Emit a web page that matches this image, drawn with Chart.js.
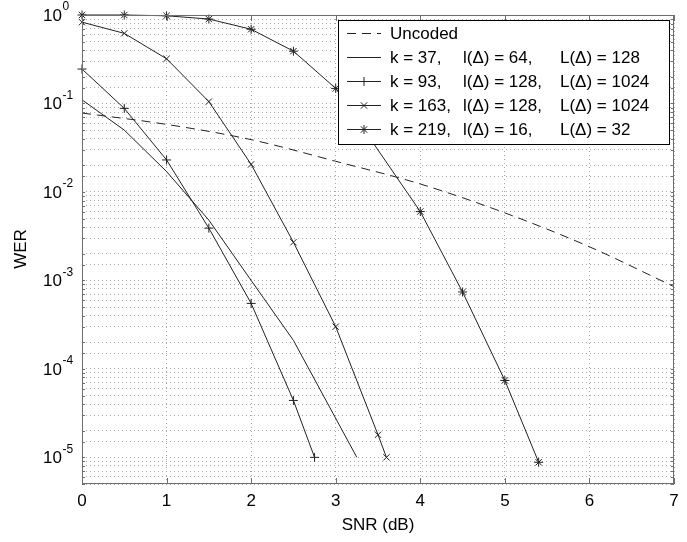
<!DOCTYPE html>
<html>
<head>
<meta charset="utf-8">
<script src="https://cdn.jsdelivr.net/npm/chart.js@4.4.0/dist/chart.umd.min.js"></script>
<style>
  html, body { margin: 0; padding: 0; background: #fff; }
  #wrap { width: 687px; height: 542px; }
</style>
</head>
<body>
<div id="wrap"><canvas id="werChart" width="687" height="542"></canvas></div>
<script>
// ===== Data =====
const uncodedSnr = [0, 1, 2, 3, 4, 5, 6, 7];
const uncodedWer = [0.078, 0.058, 0.039, 0.0222, 0.0123, 0.0058, 0.0024, 0.00085];

const k37Snr = [0, 0.5, 1, 1.5, 2, 2.5, 3.25];
const k37Wer = [0.11, 0.05, 0.017, 0.0048, 0.001, 0.00021, 0.00001];

const k93Snr = [0, 0.5, 1, 1.5, 2, 2.5, 2.75];
const k93Wer = [0.245, 0.088, 0.023, 0.0039, 0.00055, 0.000044, 0.00001];

const k163Snr = [0, 0.5, 1, 1.5, 2, 2.5, 3, 3.5, 3.6];
const k163Wer = [0.83, 0.62, 0.32, 0.105, 0.0205, 0.0027, 0.0003, 0.000018, 0.00001];

const k219Snr = [0, 0.5, 1, 1.5, 2, 2.5, 3, 4, 4.5, 5, 5.4];
const k219Wer = [1.0, 1.0, 0.98, 0.9, 0.69, 0.39, 0.148, 0.006, 0.00074, 0.000074, 0.0000088];

const xTicks = [0, 1, 2, 3, 4, 5, 6, 7];
const yTickExps = [0, -1, -2, -3, -4, -5];

// legend text, three columns per row
const legendCols = [
  ['Uncoded', '', ''],
  ['k = 37,', 'l(\u0394) = 64,', 'L(\u0394) = 128'],
  ['k = 93,', 'l(\u0394) = 128,', 'L(\u0394) = 1024'],
  ['k = 163,', 'l(\u0394) = 128,', 'L(\u0394) = 1024'],
  ['k = 219,', 'l(\u0394) = 16,', 'L(\u0394) = 32']
];

const FONT = '"Liberation Sans", Arial, Helvetica, sans-serif';
const INK = '#222';

const toPts = (xs, ys) => xs.map((x, i) => ({ x: x, y: ys[i] }));

function series(label, xs, ys, style, dash) {
  return {
    label: label,
    data: toPts(xs, ys),
    borderColor: INK,
    backgroundColor: INK,
    borderWidth: 1,
    borderDash: dash || [],
    pointStyle: style || false,
    pointRadius: style ? 4.5 : 0,
    pointBorderWidth: 1,
    pointHoverRadius: 0,
    clip: 8,
    fill: false
  };
}

const datasets = [
  Object.assign(series('Uncoded', uncodedSnr, uncodedWer, null, [9, 6]), { cubicInterpolationMode: 'monotone' }),
  series('k37', k37Snr, k37Wer, null),
  series('k93', k93Snr, k93Wer, 'cross'),
  series('k163', k163Snr, k163Wer, 'crossRot'),
  series('k219', k219Snr, k219Wer, 'star')
];

// ===== Frame, inner ticks, axis labels, legend =====
const matlabLook = {
  id: 'matlabLook',
  afterDatasetsDraw(chart) {
    const { ctx, chartArea: a, scales } = chart;
    const xs = scales.x, ys = scales.y;
    ctx.save();

    // box
    ctx.strokeStyle = '#6e6e6e';
    ctx.lineWidth = 1;
    ctx.strokeRect(a.left + 0.5, a.top + 0.5, a.right - a.left - 1, a.bottom - a.top - 1);

    // inner ticks
    ctx.beginPath();
    xs.ticks.forEach(t => {
      const px = Math.round(xs.getPixelForValue(t.value)) + 0.5;
      ctx.moveTo(px, a.bottom); ctx.lineTo(px, a.bottom - 6);
      ctx.moveTo(px, a.top); ctx.lineTo(px, a.top + 6);
    });
    ys.ticks.forEach(t => {
      const py = Math.round(ys.getPixelForValue(t.value)) + 0.5;
      const len = t.significand === 1 ? 6 : 3;
      ctx.moveTo(a.left, py); ctx.lineTo(a.left + len, py);
      ctx.moveTo(a.right, py); ctx.lineTo(a.right - len, py);
    });
    ctx.stroke();

    // y tick labels 10^n
    ctx.fillStyle = '#000';
    yTickExps.forEach(e => {
      const py = ys.getPixelForValue(Math.pow(10, e));
      ctx.font = '17px ' + FONT;
      ctx.textAlign = 'right';
      ctx.textBaseline = 'middle';
      ctx.fillText('10', 62, py + 1);
      ctx.font = '12px ' + FONT;
      ctx.textAlign = 'left';
      ctx.fillText(String(e), 62.5, py - 8);
    });

    // axis titles
    ctx.font = '17px ' + FONT;
    ctx.textAlign = 'center';
    ctx.textBaseline = 'middle';
    ctx.fillText('SNR (dB)', (a.left + a.right) / 2, 525);
    ctx.save();
    ctx.translate(21, 249);
    ctx.rotate(-Math.PI / 2);
    ctx.fillText('WER', 0, 0);
    ctx.restore();

    // legend
    const lx = 338, ly = 20, lw = 331, lh = 124;
    ctx.fillStyle = '#fff';
    ctx.fillRect(lx, ly, lw, lh);
    ctx.strokeStyle = '#000';
    ctx.strokeRect(lx + 0.5, ly + 0.5, lw, lh);
    const colX = [390, 463, 560];
    legendCols.forEach((cols, i) => {
      const ds = chart.data.datasets[i];
      const ry = 33 + i * 24;
      ctx.strokeStyle = INK;
      ctx.lineWidth = 1;
      ctx.setLineDash(ds.borderDash || []);
      ctx.beginPath();
      ctx.moveTo(347, ry + 0.5); ctx.lineTo(381, ry + 0.5);
      ctx.stroke();
      ctx.setLineDash([]);
      if (ds.pointStyle && Chart.helpers && Chart.helpers.drawPoint) {
        Chart.helpers.drawPoint(ctx, { pointStyle: ds.pointStyle, radius: 4.5, rotation: 0, borderWidth: 1 }, 364, ry + 0.5);
      }
      ctx.fillStyle = '#000';
      ctx.font = '17px ' + FONT;
      ctx.textAlign = 'left';
      ctx.textBaseline = 'middle';
      cols.forEach((txt, j) => ctx.fillText(txt, colX[j], ry + 1));
    });

    ctx.restore();
  }
};

const gridStyle = {
  color: '#a8a8a8',
  lineWidth: 1,
  drawTicks: false
};

new Chart(document.getElementById('werChart'), {
  type: 'line',
  data: { datasets: datasets },
  plugins: [matlabLook],
  options: {
    responsive: false,
    animation: false,
    events: [],
    layout: { padding: { top: 15, right: 13, left: 0, bottom: 0 } },
    plugins: { legend: { display: false }, tooltip: { enabled: false } },
    scales: {
      x: {
        type: 'linear',
        min: 0,
        max: 7,
        afterBuildTicks: s => { s.ticks = xTicks.map(v => ({ value: v })); },
        afterFit: s => { s.height = 58; },
        border: { display: false, dash: [1, 3] },
        grid: gridStyle,
        ticks: { color: '#000', font: { family: FONT, size: 17 }, padding: 7, maxRotation: 0 }
      },
      y: {
        type: 'logarithmic',
        min: 5e-6,
        max: 1,
        afterFit: s => { s.width = 82; },
        border: { display: false, dash: [1, 3] },
        grid: gridStyle,
        ticks: { display: false }
      }
    }
  }
});
</script>
</body>
</html>
